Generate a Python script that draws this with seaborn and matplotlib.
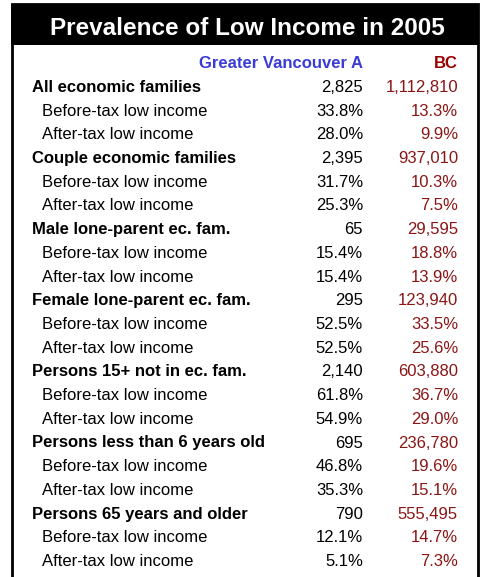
import matplotlib.pyplot as plt
import pandas as pd
import seaborn as sns
from matplotlib.patches import Rectangle

# table contents
groups = [
    "All economic families",
    "Couple economic families",
    "Male lone-parent ec. fam.",
    "Female lone-parent ec. fam.",
    "Persons 15+ not in ec. fam.",
    "Persons less than 6 years old",
    "Persons 65 years and older",
]
gv_count = [2825, 2395, 65, 295, 2140, 695, 790]
bc_count = [1112810, 937010, 29595, 123940, 603880, 236780, 555495]
gv_before = [33.8, 31.7, 15.4, 52.5, 61.8, 46.8, 12.1]
gv_after = [28.0, 25.3, 15.4, 52.5, 54.9, 35.3, 5.1]
bc_before = [13.3, 10.3, 18.8, 33.5, 36.7, 19.6, 14.7]
bc_after = [9.9, 7.5, 13.9, 25.6, 29.0, 15.1, 7.3]

title = "Prevalence of Low Income in 2005"
col_headers = ["Greater Vancouver A", "BC"]

sns.set_theme(style="white")
plt.rcParams["font.family"] = ["Liberation Sans", "DejaVu Sans"]

BLUE = "#3b3bd8"
DARKRED = "#990000"
VALRED = "#8b1515"
FS = 12

# build rows
rows = []
for i, g in enumerate(groups):
    rows.append({"label": g, "gv": f"{gv_count[i]:,}", "bc": f"{bc_count[i]:,}", "bold": True})
    rows.append({"label": "Before-tax low income", "gv": f"{gv_before[i]:.1f}%", "bc": f"{bc_before[i]:.1f}%", "bold": False})
    rows.append({"label": "After-tax low income", "gv": f"{gv_after[i]:.1f}%", "bc": f"{bc_after[i]:.1f}%", "bold": False})
df = pd.DataFrame(rows)

fig = plt.figure(figsize=(4.8, 5.77), dpi=100)
ax = fig.add_axes([0, 0, 1, 1])
ax.set_xlim(0, 480)
ax.set_ylim(577, 0)
ax.axis("off")

# frame and title bar
ax.add_patch(Rectangle((12, 4), 466, 590, facecolor="white", edgecolor="black", lw=2.0))
ax.add_patch(Rectangle((11, 4), 468, 41, facecolor="black", edgecolor="none"))
ax.text(247, 35, title, color="white", fontsize=17.5, fontweight="bold", ha="center", va="baseline")

# column headers
ax.text(363, 68, col_headers[0], color=BLUE, fontsize=FS, fontweight="bold", ha="right", va="baseline")
ax.text(458, 68, col_headers[1], color=DARKRED, fontsize=FS, fontweight="bold", ha="right", va="baseline")

y0, step = 92, 23.7
for i, r in df.iterrows():
    y = y0 + i * step
    x = 32 if r["bold"] else 42
    fw = "bold" if r["bold"] else "normal"
    ax.text(x, y, r["label"], fontsize=FS, fontweight=fw, color="black", ha="left", va="baseline")
    ax.text(363, y, r["gv"], fontsize=FS, color="black", ha="right", va="baseline")
    ax.text(458, y, r["bc"], fontsize=FS, color=VALRED, ha="right", va="baseline")

fig.savefig("out.png", dpi=100)
